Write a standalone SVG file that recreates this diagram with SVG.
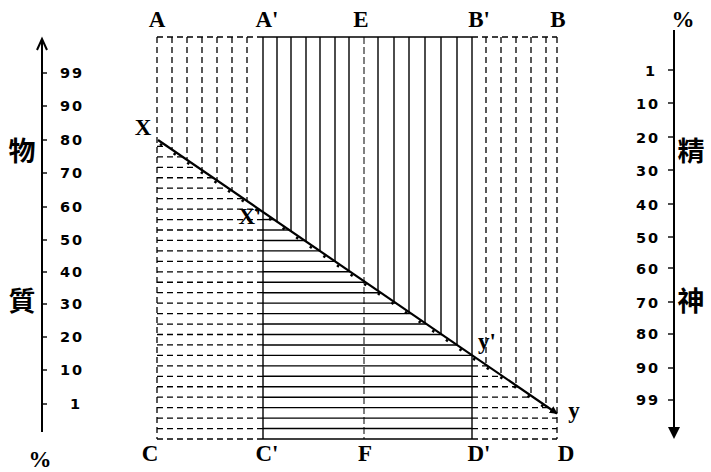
<svg xmlns="http://www.w3.org/2000/svg" width="711" height="472" viewBox="0 0 711 472">
<defs>
<style>
.s{stroke:#000;stroke-width:1.4;fill:none}
.d{stroke:#000;stroke-width:1.3;fill:none;stroke-dasharray:6 4}
.c{stroke:#000;stroke-width:1;fill:none;stroke-dasharray:7 3}
.ax{stroke:#000;stroke-width:2;fill:none}
.n{font-family:"DejaVu Sans",sans-serif;font-weight:bold;font-size:14.5px;letter-spacing:2px;text-anchor:middle;fill:#000}
.L{font-family:"Liberation Serif",serif;font-weight:bold;font-size:23px;text-anchor:middle;fill:#000}
.cj{font-family:"Noto Sans CJK TC","Noto Sans CJK JP",sans-serif;font-weight:bold;font-size:27px;text-anchor:middle;fill:#000}
.p{font-family:"Liberation Serif",serif;font-weight:bold;font-size:23px;text-anchor:middle;fill:#000}
</style>
<marker id="ah" viewBox="0 0 10 10" refX="9" refY="5" markerWidth="8" markerHeight="8" orient="auto" markerUnits="userSpaceOnUse">
<path d="M0,0 L10,5 L0,10 z" fill="#000"/>
</marker>
</defs>
<rect width="711" height="472" fill="#fff"/>

<g id="left-axis">
<line class="ax" x1="42" y1="39" x2="42" y2="432"/>
<path class="ax" d="M37,50 L42,39 L47,50"/>
<g class="s">
<line x1="42" y1="73" x2="47" y2="73"/>
<line x1="42" y1="106" x2="47" y2="106"/>
<line x1="42" y1="140" x2="47" y2="140"/>
<line x1="42" y1="173" x2="47" y2="173"/>
<line x1="42" y1="207" x2="47" y2="207"/>
<line x1="42" y1="240" x2="47" y2="240"/>
<line x1="42" y1="272" x2="47" y2="272"/>
<line x1="42" y1="304" x2="47" y2="304"/>
<line x1="42" y1="337" x2="47" y2="337"/>
<line x1="42" y1="370" x2="47" y2="370"/>
<line x1="42" y1="404" x2="47" y2="404"/>
</g>
<text class="n" x="72" y="78">99</text>
<text class="n" x="72" y="111">90</text>
<text class="n" x="72" y="145">80</text>
<text class="n" x="72" y="178">70</text>
<text class="n" x="72" y="212">60</text>
<text class="n" x="72" y="245">50</text>
<text class="n" x="72" y="277">40</text>
<text class="n" x="72" y="309">30</text>
<text class="n" x="72" y="342">20</text>
<text class="n" x="72" y="375">10</text>
<text class="n" x="76" y="409">1</text>
<text class="cj" x="22" y="161">物</text>
<text class="cj" x="22" y="311">質</text>
<text class="p" x="40" y="467">%</text>
</g>

<g id="right-axis">
<line class="ax" x1="674" y1="30" x2="674" y2="430"/>
<path d="M668,427 L680,427 L674,439 z" fill="#000"/>
<g class="s">
<line x1="668" y1="70" x2="674" y2="70"/>
<line x1="668" y1="103" x2="674" y2="103"/>
<line x1="668" y1="137" x2="674" y2="137"/>
<line x1="668" y1="170" x2="674" y2="170"/>
<line x1="668" y1="204" x2="674" y2="204"/>
<line x1="668" y1="237" x2="674" y2="237"/>
<line x1="668" y1="268" x2="674" y2="268"/>
<line x1="668" y1="302" x2="674" y2="302"/>
<line x1="668" y1="334" x2="674" y2="334"/>
<line x1="668" y1="368" x2="674" y2="368"/>
<line x1="668" y1="400" x2="674" y2="400"/>
</g>
<text class="n" x="651" y="76">1</text>
<text class="n" x="648" y="109">10</text>
<text class="n" x="648" y="143">20</text>
<text class="n" x="648" y="176">30</text>
<text class="n" x="648" y="210">40</text>
<text class="n" x="648" y="243">50</text>
<text class="n" x="648" y="274">60</text>
<text class="n" x="648" y="308">70</text>
<text class="n" x="648" y="339">80</text>
<text class="n" x="648" y="373">90</text>
<text class="n" x="648" y="405">99</text>
<text class="cj" x="691" y="161">精</text>
<text class="cj" x="691" y="311">神</text>
<text class="p" x="683" y="27">%</text>
</g>

<g id="frame">
<line class="d" x1="157" y1="37" x2="263" y2="37"/>
<line class="s" x1="263" y1="37" x2="472" y2="37"/>
<line class="d" x1="472" y1="37" x2="557" y2="37"/>
<line class="d" x1="157" y1="37" x2="157" y2="439"/>
<line class="d" x1="557" y1="37" x2="557" y2="439"/>
<line class="s" x1="263" y1="37" x2="263" y2="439"/>
<line class="s" x1="472" y1="37" x2="472" y2="439"/>
<line class="c" x1="364" y1="37" x2="364" y2="439"/>
<line class="d" x1="157" y1="439" x2="263" y2="439"/>
<line class="s" x1="263" y1="439" x2="472" y2="439"/>
<line class="d" x1="472" y1="439" x2="557" y2="439"/>
</g>

<g id="verticals">
<g class="d">
<line x1="172" y1="37" x2="172" y2="149.6"/>
<line x1="187" y1="37" x2="187" y2="159.9"/>
<line x1="202" y1="37" x2="202" y2="170.1"/>
<line x1="217" y1="37" x2="217" y2="180.4"/>
<line x1="232" y1="37" x2="232" y2="190.7"/>
<line x1="247" y1="37" x2="247" y2="201"/>
<line x1="486" y1="37" x2="486" y2="364.7"/>
<line x1="501" y1="37" x2="501" y2="375"/>
<line x1="516" y1="37" x2="516" y2="385.2"/>
<line x1="531" y1="37" x2="531" y2="395.5"/>
<line x1="546" y1="37" x2="546" y2="405.8"/>
</g>
<g class="s">
<line x1="277" y1="37" x2="277" y2="221.5"/>
<line x1="291" y1="37" x2="291" y2="231.1"/>
<line x1="306" y1="37" x2="306" y2="241.4"/>
<line x1="320" y1="37" x2="320" y2="251"/>
<line x1="335" y1="37" x2="335" y2="261.2"/>
<line x1="349" y1="37" x2="349" y2="270.8"/>
<line x1="378" y1="37" x2="378" y2="290.7"/>
<line x1="394" y1="37" x2="394" y2="301.7"/>
<line x1="409" y1="37" x2="409" y2="311.9"/>
<line x1="425" y1="37" x2="425" y2="322.9"/>
<line x1="441" y1="37" x2="441" y2="333.9"/>
<line x1="457" y1="37" x2="457" y2="344.8"/>
</g>
</g>

<g id="horizontals">
<g class="d">
<line x1="157" y1="146.4" x2="167.3" y2="146.4"/>
<line x1="157" y1="156.85" x2="182.6" y2="156.85"/>
<line x1="157" y1="167.3" x2="197.9" y2="167.3"/>
<line x1="157" y1="177.75" x2="213.1" y2="177.75"/>
<line x1="157" y1="188.2" x2="228.4" y2="188.2"/>
<line x1="157" y1="198.65" x2="243.6" y2="198.65"/>
<line x1="157" y1="209.1" x2="258.9" y2="209.1"/>
<line x1="157" y1="219.55" x2="263" y2="219.55"/>
<line x1="157" y1="230" x2="263" y2="230"/>
<line x1="157" y1="240.45" x2="263" y2="240.45"/>
<line x1="157" y1="250.9" x2="263" y2="250.9"/>
<line x1="157" y1="261.35" x2="263" y2="261.35"/>
<line x1="157" y1="271.8" x2="263" y2="271.8"/>
<line x1="157" y1="282.25" x2="263" y2="282.25"/>
<line x1="157" y1="292.7" x2="263" y2="292.7"/>
<line x1="157" y1="303.15" x2="263" y2="303.15"/>
<line x1="157" y1="313.6" x2="263" y2="313.6"/>
<line x1="157" y1="324.05" x2="263" y2="324.05"/>
<line x1="157" y1="334.5" x2="263" y2="334.5"/>
<line x1="157" y1="344.95" x2="263" y2="344.95"/>
<line x1="157" y1="355.4" x2="263" y2="355.4"/>
<line x1="157" y1="365.85" x2="263" y2="365.85"/>
<line x1="157" y1="376.3" x2="263" y2="376.3"/>
<line x1="157" y1="386.75" x2="263" y2="386.75"/>
<line x1="157" y1="397.2" x2="263" y2="397.2"/>
<line x1="157" y1="407.65" x2="263" y2="407.65"/>
<line x1="157" y1="418.1" x2="263" y2="418.1"/>
<line x1="157" y1="428.55" x2="263" y2="428.55"/>
<line x1="472" y1="365.85" x2="487.7" y2="365.85"/>
<line x1="472" y1="376.3" x2="503" y2="376.3"/>
<line x1="472" y1="386.75" x2="518.2" y2="386.75"/>
<line x1="472" y1="397.2" x2="533.5" y2="397.2"/>
<line x1="472" y1="407.65" x2="548.7" y2="407.65"/>
<line x1="472" y1="418.1" x2="557" y2="418.1"/>
<line x1="472" y1="428.55" x2="557" y2="428.55"/>
</g>
<g class="s">
<line x1="263" y1="219.55" x2="274.1" y2="219.55"/>
<line x1="263" y1="230" x2="289.4" y2="230"/>
<line x1="263" y1="240.45" x2="304.6" y2="240.45"/>
<line x1="263" y1="250.9" x2="319.9" y2="250.9"/>
<line x1="263" y1="261.35" x2="335.2" y2="261.35"/>
<line x1="263" y1="271.8" x2="350.4" y2="271.8"/>
<line x1="263" y1="282.25" x2="365.7" y2="282.25"/>
<line x1="263" y1="292.7" x2="380.9" y2="292.7"/>
<line x1="263" y1="303.15" x2="396.2" y2="303.15"/>
<line x1="263" y1="313.6" x2="411.4" y2="313.6"/>
<line x1="263" y1="324.05" x2="426.7" y2="324.05"/>
<line x1="263" y1="334.5" x2="442" y2="334.5"/>
<line x1="263" y1="344.95" x2="457.2" y2="344.95"/>
<line x1="263" y1="355.4" x2="472" y2="355.4"/>
<line x1="263" y1="365.85" x2="472" y2="365.85"/>
<line x1="263" y1="376.3" x2="472" y2="376.3"/>
<line x1="263" y1="386.75" x2="472" y2="386.75"/>
<line x1="263" y1="397.2" x2="472" y2="397.2"/>
<line x1="263" y1="407.65" x2="472" y2="407.65"/>
<line x1="263" y1="418.1" x2="472" y2="418.1"/>
<line x1="263" y1="428.55" x2="472" y2="428.55"/>
</g>
</g>

<g id="diagonal">
<line x1="158" y1="140" x2="557" y2="413.5" stroke="#000" stroke-width="2.2" marker-end="url(#ah)"/>
<line x1="160" y1="144" x2="552" y2="412.5" stroke="#000" stroke-width="2.5" stroke-dasharray="2.5 14"/>
</g>

<g id="labels">
<text class="L" x="157" y="27">A</text>
<text class="L" x="267" y="27">A'</text>
<text class="L" x="361" y="27">E</text>
<text class="L" x="479" y="27" font-weight="normal">B'</text>
<text class="L" x="558" y="27">B</text>
<text class="L" x="150" y="461">C</text>
<text class="L" x="267" y="461">C'</text>
<text class="L" x="365" y="461">F</text>
<text class="L" x="479" y="461">D'</text>
<text class="L" x="566" y="461">D</text>
<text class="L" x="143" y="135">X</text>
<text class="L" x="250" y="224">X'</text>
<text class="L" x="487" y="349" font-weight="normal">y'</text>
<text class="L" x="574" y="418">y</text>
</g>
</svg>
